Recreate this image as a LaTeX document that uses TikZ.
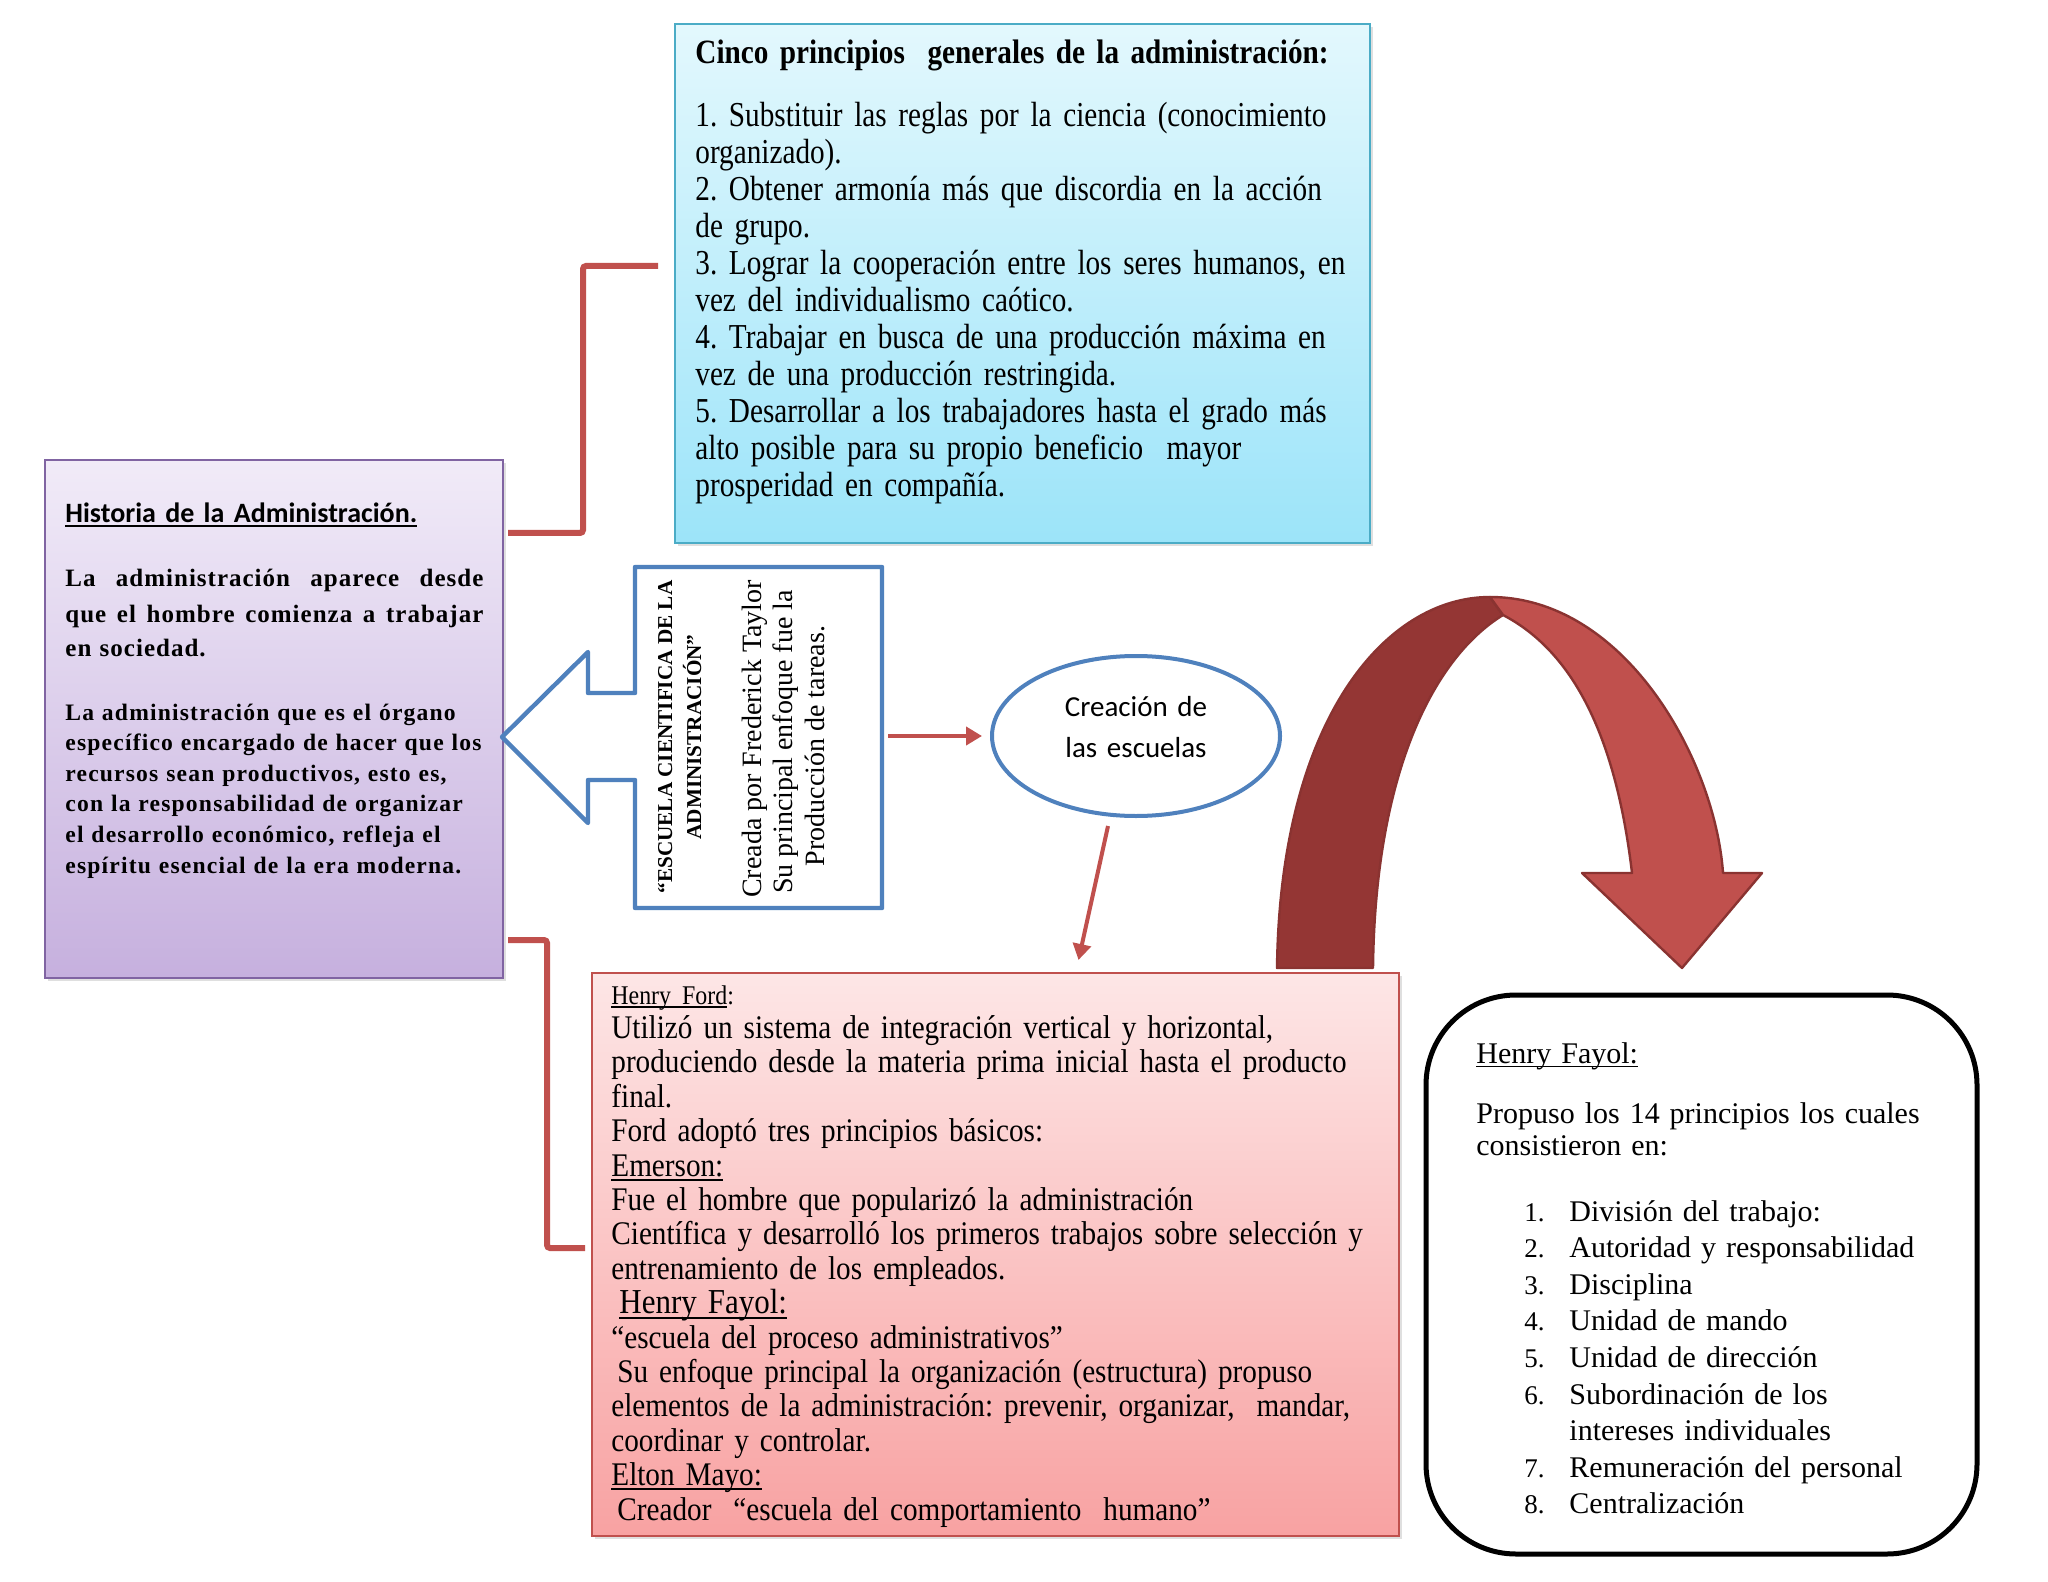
\documentclass[tikz,border=0pt]{standalone}
\usepackage{fontspec}
\setmainfont{Liberation Serif}
\newfontfamily\calib{Carlito}
\newfontfamily\cincofont[FakeStretch=0.835]{Liberation Serif}
\newfontfamily\cincotit[FakeStretch=0.86]{Liberation Serif}
\newfontfamily\fordfont[FakeStretch=0.885]{Liberation Serif}
\newfontfamily\histA[LetterSpace=4]{Liberation Serif}
\newfontfamily\histB[LetterSpace=5]{Liberation Serif}
\newsavebox\ulbox
\newcommand{\myul}[1]{\leavevmode\sbox\ulbox{#1}\rlap{\rule[-0.14em]{\wd\ulbox}{0.055em}}\usebox\ulbox}
\usetikzlibrary{shapes.geometric,arrows.meta,shadows}
\definecolor{rd}{HTML}{C0504D}
\definecolor{bl}{HTML}{4F81BD}
\definecolor{purB}{HTML}{8064A2}
\definecolor{purT}{HTML}{F1EBF8}
\definecolor{purBt}{HTML}{C6B0DE}
\definecolor{cyB}{HTML}{4BACC6}
\definecolor{cyT}{HTML}{E3F8FD}
\definecolor{cyBt}{HTML}{9CE4F9}
\definecolor{pkT}{HTML}{FDE6E6}
\definecolor{pkBt}{HTML}{F8A2A2}
\definecolor{drk}{HTML}{943634}
\definecolor{arrEdge}{HTML}{8A3331}
\tikzset{
  txt/.style={inner sep=0pt, anchor=base west, align=left},
  rot/.style={rotate=90, anchor=base, inner sep=0pt},
  panel/.style={anchor=north west, inner sep=0pt, outer sep=0pt},
  softshadow/.style={drop shadow={shadow xshift=1.5pt, shadow yshift=-1.5pt, opacity=0.25}},
  bracket/.style={draw=rd, line width=3pt, rounded corners=1.5pt},
  redarrow/.style={draw=rd, line width=2pt, -{Triangle[length=8pt,width=9pt]}},
  bigarrow/.style={draw=arrEdge, line width=1.2pt, line join=round},
}
\begin{document}
\frenchspacing
\begin{tikzpicture}[x=0.5pt, y=-0.5pt]
\useasboundingbox (0,0) rectangle (2048,1582);
\fill[white] (0,0) rectangle (2048,1582);

% ---------- boxes ----------
\node[panel, draw=purB, line width=1pt, top color=purT, bottom color=purBt, softshadow,
      minimum width=229pt, minimum height=259pt] (hist) at (45,460) {};
\node[panel, draw=cyB, line width=1pt, top color=cyT, bottom color=cyBt, softshadow,
      minimum width=347.5pt, minimum height=259.5pt] (cinco) at (675,24) {};
\node[panel, draw=rd, line width=1pt, top color=pkT, bottom color=pkBt, softshadow,
      minimum width=403.5pt, minimum height=281.5pt] (ford) at (592,973) {};
\node[panel, draw=black, line width=2.5pt, rounded corners=45pt, fill=white,
      minimum width=275.5pt, minimum height=279.5pt] (fayol) at (1426,995) {};
\node[panel, minimum width=123.5pt, minimum height=170.5pt] (esc) at (635,567) {};
\node[ellipse, draw=bl, line width=2pt, minimum width=144pt, minimum height=80pt,
      inner sep=0pt] (crea) at (1136,736) {};

% escuela box + left block arrow outline
\draw[bl, line width=2.2pt, line join=round]
  (esc.north west) -- (esc.north east) -- (esc.south east) -- (esc.south west)
  -- (635,780) -- (588,780) -- (588,823) -- (502,737) -- (588,652) -- (588,693)
  -- (635,693) -- cycle;

% ---------- connectors ----------
\coordinate (b1e) at (658,266);
\coordinate (b2e) at (585,1248);
\draw[bracket] ([shift={(5,73)}]hist.north east) -| (583,266) -- (b1e);
\draw[bracket] ([shift={(5,-38)}]hist.south east) -| (547,1248) -- (b2e);
\draw[redarrow, shorten <=3pt, shorten >=4pt] (esc.east |- crea.center) -- (crea.west);
\draw[redarrow] ([shift={(-28,8)}]crea.south) -- ([shift={(83,-13)}]ford.north);

% big curved arrow (ford -> fayol)
\fill[drk, bigarrow] (1277,968) .. controls (1280,720) and (1385,597) .. (1490,597)
  -- (1503,615) .. controls (1430,660) and (1375,780) .. (1373,968) -- cycle;
\fill[rd, bigarrow] (1490,597) .. controls (1625,597) and (1715,760) .. (1723,873)
  -- (1762,873) -- (1682,968) -- (1582,873) -- (1632,873)
  .. controls (1615,730) and (1570,650) .. (1503,615) -- cycle;

% ---------- texts ----------
\node[txt, text width=220pt, font=\calib\bfseries\fontsize{14}{17}\selectfont] (histT) at (65,523)
  {\myul{Historia de la Administración.}};
\node[txt, text width=209pt, font=\histA\bfseries\fontsize{12.5}{17.5}\selectfont] (histP1) at (65,587)
  {\leavevmode\hbox to 209pt{La\hfill administración\hfill aparece\hfill desde}\\
   \leavevmode\hbox to 209pt{que\hfill el\hfill hombre\hfill comienza\hfill a\hfill trabajar}\\
   en sociedad.};
\node[txt, text width=220pt, font=\histB\bfseries\fontsize{11.8}{15.3}\selectfont] (histP2) at (65,720)
  {La administración que es el órgano\\
   específico encargado de hacer que los\\
   recursos sean productivos, esto es,\\
   con la responsabilidad de organizar\\
   el desarrollo económico, refleja el\\
   espíritu esencial de la era moderna.};

\node[txt, text width=340pt, font=\cincotit\bfseries\fontsize{17}{18.5}\selectfont] (cincoT) at (695,64)
  {Cinco principios \ generales de la administración:};
\node[txt, text width=340pt, font=\cincofont\fontsize{17.5}{18.5}\selectfont] (cincoB) at (695,127)
  {1. Substituir las reglas por la ciencia (conocimiento\\
   organizado).\\
   2. Obtener armonía más que discordia en la acción\\
   de grupo.\\
   3. Lograr la cooperación entre los seres humanos, en\\
   vez del individualismo caótico.\\
   4. Trabajar en busca de una producción máxima en\\
   vez de una producción restringida.\\
   5. Desarrollar a los trabajadores hasta el grado más\\
   alto posible para su propio beneficio \ mayor\\
   prosperidad en compañía.};

\node[rot, font=\bfseries\fontsize{10.6}{12}\selectfont] (escT1) at (672,737) {“ESCUELA CIENTIFICA DE LA};
\node[rot, font=\bfseries\fontsize{10.6}{12}\selectfont] (escT2) at (701,737) {ADMINISTRACIÓN”};
\node[rot, font=\fontsize{14}{15}\selectfont] (escB1) at (761,739) {Creada por Frederick Taylor};
\node[rot, font=\fontsize{14}{15}\selectfont] (escB2) at (792,742) {Su principal enfoque fue la};
\node[rot, font=\fontsize{14}{15}\selectfont] (escB3) at (824,746) {Producción de tareas.};

\node[inner sep=0pt, anchor=base, text width=120pt, align=center,
      font=\calib\fontsize{14.5}{20.5}\selectfont] (creaT) at (1136,716) {Creación de\\las escuelas};

\node[txt, text width=400pt, font=\fordfont\fontsize{16.5}{17.2}\selectfont] (fordT) at (611,1004)
  {\lineskiplimit=-20pt\relax
   {\fontsize{13.5}{17.2}\selectfont\myul{Henry Ford}:}\\
   Utilizó un sistema de integración vertical y horizontal,\\
   produciendo desde la materia prima inicial hasta el producto\\
   final.\\
   Ford adoptó tres principios básicos:\\
   \myul{Emerson:}\\
   Fue el hombre que popularizó la administración\\
   Científica y desarrolló los primeros trabajos sobre selección y\\
   entrenamiento de los empleados.\\
   \hspace*{4pt}{\fontsize{17.5}{17.2}\selectfont\myul{Henry Fayol:}}\\
   “escuela del proceso administrativos”\\
   \hspace*{3pt}Su enfoque principal la organización (estructura) propuso\\
   elementos de la administración: prevenir, organizar, \ mandar,\\
   coordinar y controlar.\\
   \myul{Elton Mayo:}\\
   \hspace*{3pt}Creador \ “escuela del comportamiento \ humano”};

\node[txt, text width=200pt, font=\fontsize{15}{16}\selectfont] (fayT) at (1476,1063) {\myul{Henry Fayol:}};
\node[txt, text width=240pt, font=\fontsize{15}{16}\selectfont] (fayP) at (1476,1123)
  {Propuso los 14 principios los cuales\\ consistieron en:};
\node[txt, text width=30pt, font=\fontsize{13.5}{18.3}\selectfont] (fayN) at (1524,1221)
  {1.\\2.\\3.\\4.\\5.\\6.\\\mbox{}\\7.\\8.};
\node[txt, text width=200pt, font=\fontsize{15}{18.3}\selectfont] (fayL) at (1569,1221)
  {División del trabajo:\\
   Autoridad y responsabilidad\\
   Disciplina\\
   Unidad de mando\\
   Unidad de dirección\\
   Subordinación de los\\
   intereses individuales\\
   Remuneración del personal\\
   Centralización};
\end{tikzpicture}
\end{document}
